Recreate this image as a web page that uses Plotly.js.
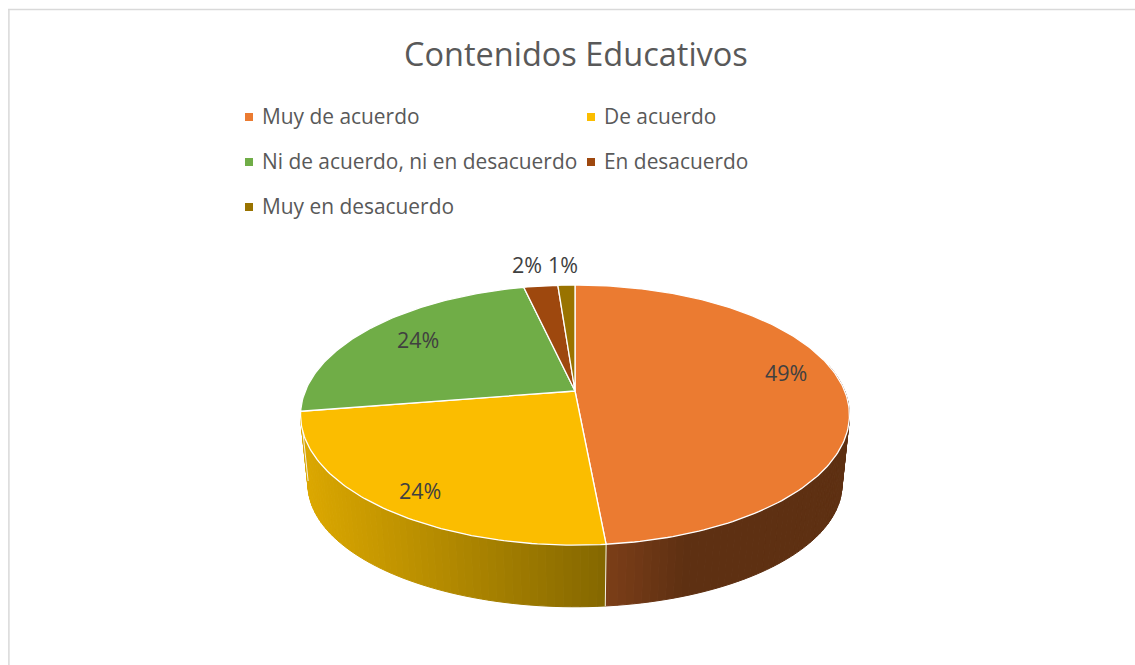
<!DOCTYPE html>
<html>
<head>
<meta charset="utf-8">
<script src="https://cdn.plot.ly/plotly-3.0.1.min.js"></script>
<style>html,body{margin:0;padding:0;background:#fff;overflow:hidden}#chart{width:1135px;height:665px}</style>
</head>
<body>
<div id="chart"></div>
<script>
const titleText = "Contenidos Educativos";
const categories = ["Muy de acuerdo", "De acuerdo", "Ni de acuerdo, ni en desacuerdo", "En desacuerdo", "Muy en desacuerdo"];
const shares = [48.5, 24.0, 23.9, 2.4, 1.2];
const colors = ["#EB7B31", "#FBBD00", "#70AD47", "#9E480E", "#997300"];

const legendX = [249, 591, 249, 591, 249];
const legendY = [117, 117, 162, 162, 207];
const labelX = [786, 420, 418, 527, 563];
const labelY = [372, 490, 339, 264, 264];

// Projection of the tilted disc
const cx = 575, topCy = 391, lowCy = 462, k = 0.185;
const topA = 269.7, topB = 125.6, lowA = 262.4, lowB = 118;
const rad = d => d * Math.PI / 180;
const project = (deg, a, b, cy) => {
  const w = 1 + k * Math.cos(rad(deg));
  return [cx + a * Math.sin(rad(deg)) / w, cy - b * Math.cos(rad(deg)) / w];
};
const topPt = d => project(d, topA, topB, topCy);
const lowPt = d => project(d, lowA, lowB, lowCy);

const total = shares.reduce((a, b) => a + b, 0);
let run = 0;
const bounds = [0].concat(shares.map(v => (run += v) / total * 360));

const mix = (c1, c2, t) => {
  t = Math.max(0, Math.min(1, t));
  return "rgb(" + c1.map((v, i) => Math.round(v + (c2[i] - v) * t)).join(",") + ")";
};
const traces = [];

function wall(from, to, colorAt) {
  const step = 1.5;
  for (let d = from; d < to - 1e-6; d += step) {
    const e = Math.min(to, d + step);
    const p = [topPt(d), topPt(e), lowPt(e), lowPt(d), topPt(d)];
    const c = colorAt(topPt((d + e) / 2)[0]);
    traces.push({
      type: "scatter", mode: "lines", x: p.map(q => q[0]), y: p.map(q => q[1]),
      fill: "toself", fillcolor: c, line: { color: c, width: 1 },
      showlegend: false, hoverinfo: "skip"
    });
  }
}
wall(78, bounds[1], x => mix([124, 62, 24], [94, 48, 18], (x - 606) / 80));
wall(bounds[1], bounds[2], x => mix([220, 168, 0], [132, 103, 0], (x - 301) / 305));

[bounds[1], bounds[2]].forEach(d => {
  const a = topPt(d), b = lowPt(d);
  traces.push({
    type: "scatter", mode: "lines", x: [a[0], b[0]], y: [a[1], b[1]],
    line: { color: "#f4f0e8", width: 1 }, showlegend: false, hoverinfo: "skip"
  });
});

categories.forEach((name, i) => {
  const xs = [cx], ys = [topCy];
  const n = Math.max(4, Math.ceil((bounds[i + 1] - bounds[i]) / 1));
  for (let j = 0; j <= n; j++) {
    const p = topPt(bounds[i] + (bounds[i + 1] - bounds[i]) * j / n);
    xs.push(p[0]); ys.push(p[1]);
  }
  xs.push(cx); ys.push(topCy);
  traces.push({
    type: "scatter", mode: "lines", name, x: xs, y: ys,
    fill: "toself", fillcolor: colors[i], line: { color: "#ffffff", width: 1.3 },
    showlegend: false, hoverinfo: "name"
  });
});

traces.push({
  type: "scatter", mode: "markers", x: legendX, y: legendY, text: categories,
  marker: { symbol: "square", size: 8, color: colors }, showlegend: false, hoverinfo: "text"
});

const annotations = [];
categories.forEach((name, i) => {
  annotations.push({
    x: legendX[i] + 11, y: legendY[i] - 1, xref: "x", yref: "y", text: name, showarrow: false,
    xanchor: "left", yanchor: "middle",
    font: { family: "Open Sans", size: 20.9, color: "#595959" }
  });
  annotations.push({
    x: labelX[i], y: labelY[i], xref: "x", yref: "y", text: Math.round(shares[i]) + "%", showarrow: false,
    xanchor: "center", yanchor: "middle",
    font: { family: "Open Sans", size: 21.5, color: "#404040" }
  });
});
annotations.push({
  x: 576, y: 53.5, xref: "x", yref: "y", text: titleText, showarrow: false,
  xanchor: "center", yanchor: "middle",
  font: { family: "Open Sans", size: 32.5, color: "#595959" }
});

const layout = {
  width: 1135, height: 665, margin: { l: 0, r: 0, t: 0, b: 0 },
  paper_bgcolor: "#ffffff", plot_bgcolor: "#ffffff", showlegend: false,
  xaxis: { range: [0, 1135], visible: false, fixedrange: true },
  yaxis: { range: [665, 0], visible: false, fixedrange: true },
  annotations,
  shapes: [
    { type: "line", xref: "x", yref: "y", x0: 8, x1: 1135, y0: 9.6, y1: 9.6, line: { color: "#d9d9d9", width: 1.5 } },
    { type: "line", xref: "x", yref: "y", x0: 8.9, x1: 8.9, y0: 9, y1: 665, line: { color: "#d9d9d9", width: 1.5 } }
  ]
};
Plotly.newPlot("chart", traces, layout, { displayModeBar: false });
</script>
</body>
</html>
